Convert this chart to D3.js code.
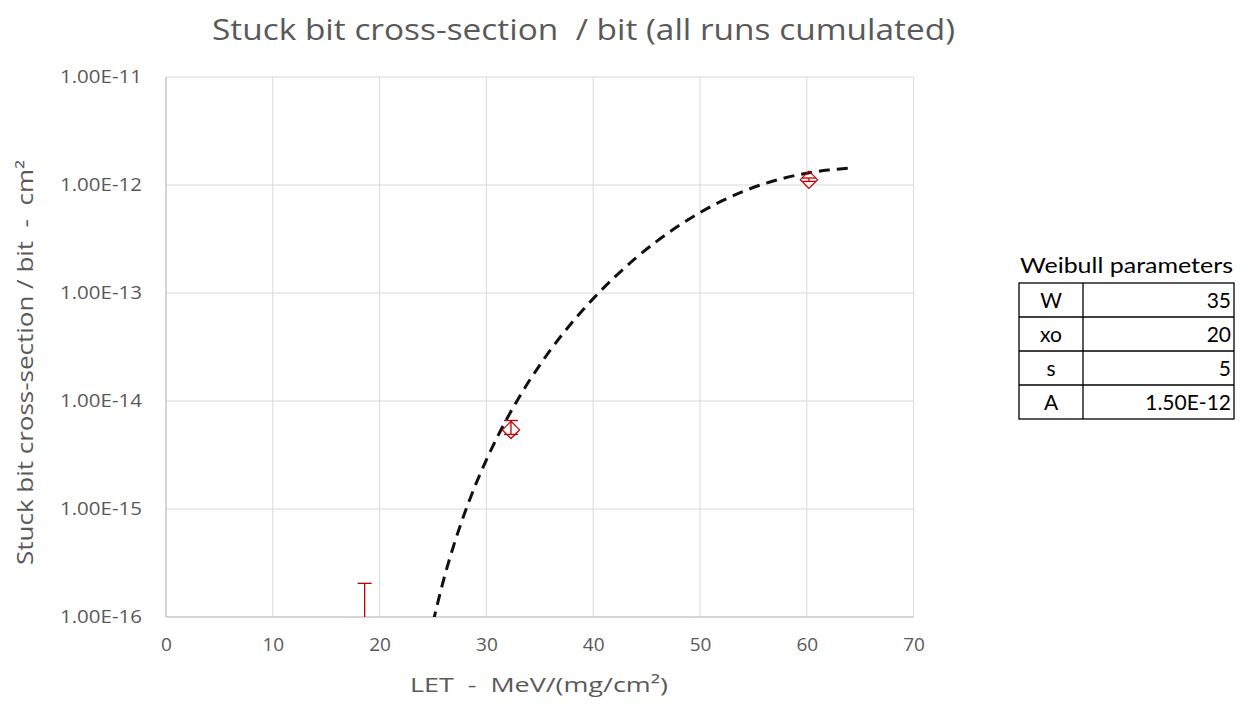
<!DOCTYPE html>
<html>
<head>
<meta charset="utf-8">
<script src="https://cdn.jsdelivr.net/npm/d3@7"></script>
<style>
  body { margin: 0; background: #fff; }
</style>
</head>
<body>
<svg id="chart" width="1248" height="704"></svg>
<script>
// ---- data ----
const xTicks = [0, 10, 20, 30, 40, 50, 60, 70];
const yTicks = [1e-16, 1e-15, 1e-14, 1e-13, 1e-12, 1e-11];
const yTickLabels = ["1.00E-16", "1.00E-15", "1.00E-14", "1.00E-13", "1.00E-12", "1.00E-11"];

// measured points (diamonds) with error bars
const pointLET = [32.3, 60.2];
const pointSigma = [5.4e-15, 1.12e-12];
const pointErrLow = [4.9e-15, 1.08e-12];
const pointErrHigh = [6.6e-15, 1.16e-12];

// upper limit only (no event seen)
const limitLET = [18.6];
const limitUpper = [2.05e-16];

// weibull fit curve
const fitLET = [25, 26, 27, 28, 29, 30, 31, 32, 33, 34, 35, 36, 38, 40, 42, 44, 46, 48, 50, 52, 54, 56, 58, 60, 62, 64];
const fitSigma = [8.9e-17, 2.22e-16, 4.8e-16, 9.36e-16, 1.69e-15, 2.85e-15, 4.6e-15, 7.09e-15, 1.057e-14, 1.53e-14,
  2.15e-14, 2.97e-14, 5.3e-14, 8.87e-14, 1.40e-13, 2.11e-13, 3.04e-13, 4.19e-13, 5.56e-13, 7.08e-13,
  8.69e-13, 1.026e-12, 1.168e-12, 1.287e-12, 1.375e-12, 1.435e-12];

const paramNames = ["W", "xo", "s", "A"];
const paramValues = ["35", "20", "5", "1.50E-12"];

// ---- layout ----
const svg = d3.select("#chart");
const plot = { left: 166, right: 913.6, top: 77, bottom: 617 };
const grey = "#595959";
const gridColor = "#d9d9d9";
const red = "#c00000";
const font = "Open Sans, sans-serif";

const x = d3.scaleLinear().domain([0, 70]).range([plot.left, plot.right]);
const y = d3.scaleLog().domain([1e-16, 1e-11]).range([plot.bottom, plot.top]);

// title
svg.append("text")
  .attr("x", 583.5).attr("y", 40)
  .attr("text-anchor", "middle")
  .attr("font-family", font)
  .attr("font-size", 30)
  .attr("fill", grey)
  .attr("textLength", 743)
  .attr("lengthAdjust", "spacingAndGlyphs")
  .attr("xml:space", "preserve")
  .text("Stuck bit cross-section  / bit (all runs cumulated)");

// grid
const grid = svg.append("g");
grid.selectAll("line.v").data(xTicks).enter().append("line")
  .attr("class", "v")
  .attr("x1", d => x(d)).attr("x2", d => x(d))
  .attr("y1", plot.top).attr("y2", plot.bottom)
  .attr("stroke", gridColor).attr("stroke-width", 1);
grid.selectAll("line.h").data(yTicks).enter().append("line")
  .attr("class", "h")
  .attr("x1", plot.left).attr("x2", plot.right)
  .attr("y1", d => y(d)).attr("y2", d => y(d))
  .attr("stroke", gridColor).attr("stroke-width", 1);

// axis lines a bit darker
svg.append("line")
  .attr("x1", plot.left).attr("x2", plot.left)
  .attr("y1", plot.top).attr("y2", plot.bottom)
  .attr("stroke", "#bfbfbf");
svg.append("line")
  .attr("x1", plot.left).attr("x2", plot.right)
  .attr("y1", plot.bottom).attr("y2", plot.bottom)
  .attr("stroke", "#bfbfbf");

// x axis labels
const xAxis = d3.axisBottom(x).tickValues(xTicks).tickSize(0).tickPadding(21);
svg.append("g")
  .attr("transform", `translate(0,${plot.bottom})`)
  .call(xAxis)
  .call(g => g.select(".domain").remove())
  .selectAll("text")
  .attr("font-family", font)
  .attr("font-size", 19)
  .attr("fill", grey);

// y axis labels
const yAxis = d3.axisLeft(y).tickValues(yTicks).tickSize(0).tickPadding(24)
  .tickFormat((d, i) => yTickLabels[i]);
svg.append("g")
  .attr("transform", `translate(${plot.left},0)`)
  .call(yAxis)
  .call(g => g.select(".domain").remove())
  .selectAll("text")
  .attr("font-family", font)
  .attr("font-size", 18)
  .attr("fill", grey)
  .attr("textLength", 82)
  .attr("lengthAdjust", "spacingAndGlyphs");

// axis titles
svg.append("text")
  .attr("x", 539).attr("y", 692)
  .attr("text-anchor", "middle")
  .attr("font-family", font)
  .attr("font-size", 20)
  .attr("fill", grey)
  .attr("textLength", 258)
  .attr("lengthAdjust", "spacingAndGlyphs")
  .attr("xml:space", "preserve")
  .text("LET  -  MeV/(mg/cm²)");

svg.append("text")
  .attr("transform", "translate(33,362.5) rotate(-90)")
  .attr("text-anchor", "middle")
  .attr("font-family", font)
  .attr("font-size", 21)
  .attr("fill", grey)
  .attr("textLength", 405)
  .attr("lengthAdjust", "spacingAndGlyphs")
  .attr("xml:space", "preserve")
  .text("Stuck bit cross-section / bit  -  cm²");

// clip for the curve
svg.append("clipPath").attr("id", "clip")
  .append("rect")
  .attr("x", plot.left).attr("y", plot.top)
  .attr("width", plot.right - plot.left).attr("height", plot.bottom - plot.top);

const fitData = fitLET.map((d, i) => ({ x: d, y: fitSigma[i] }));
const line = d3.line()
  .x(d => x(d.x))
  .y(d => y(d.y))
  .curve(d3.curveMonotoneX);

svg.append("path")
  .datum(fitData)
  .attr("clip-path", "url(#clip)")
  .attr("d", line)
  .attr("fill", "none")
  .attr("stroke", "#111")
  .attr("stroke-width", 3)
  .attr("stroke-dasharray", "11,7");

// upper-limit bar
const capW = 7;
limitLET.forEach((d, i) => {
  svg.append("line")
    .attr("x1", x(d)).attr("x2", x(d))
    .attr("y1", y(limitUpper[i])).attr("y2", plot.bottom)
    .attr("stroke", red).attr("stroke-width", 1.3);
  svg.append("line")
    .attr("x1", x(d) - capW).attr("x2", x(d) + capW)
    .attr("y1", y(limitUpper[i])).attr("y2", y(limitUpper[i]))
    .attr("stroke", red).attr("stroke-width", 1.3);
});

// error bars and diamonds
const pts = pointLET.map((d, i) => ({ x: d, y: pointSigma[i], lo: pointErrLow[i], hi: pointErrHigh[i] }));
const pg = svg.selectAll("g.pt").data(pts).enter().append("g").attr("class", "pt");
pg.append("line")
  .attr("x1", d => x(d.x)).attr("x2", d => x(d.x))
  .attr("y1", d => y(d.hi)).attr("y2", d => y(d.lo))
  .attr("stroke", red).attr("stroke-width", 1.3);
pg.append("line")
  .attr("x1", d => x(d.x) - capW).attr("x2", d => x(d.x) + capW)
  .attr("y1", d => y(d.hi)).attr("y2", d => y(d.hi))
  .attr("stroke", red).attr("stroke-width", 1.3);
pg.append("line")
  .attr("x1", d => x(d.x) - capW).attr("x2", d => x(d.x) + capW)
  .attr("y1", d => y(d.lo)).attr("y2", d => y(d.lo))
  .attr("stroke", red).attr("stroke-width", 1.3);
pg.append("path")
  .attr("d", d3.symbol().type(d3.symbolDiamond2).size(190))
  .attr("transform", d => `translate(${x(d.x)},${y(d.y)})`)
  .attr("fill", "none")
  .attr("stroke", red)
  .attr("stroke-width", 1.2);

// weibull parameter table
const tbl = { left: 1019, mid: 1083, right: 1234, top: 283, rowH: 34 };
const tfont = "Lato, sans-serif";
svg.append("text")
  .attr("x", 1020).attr("y", 273)
  .attr("font-family", tfont)
  .attr("font-size", 21)
  .attr("fill", "#000")
  .attr("textLength", 213)
  .attr("lengthAdjust", "spacingAndGlyphs")
  .text("Weibull parameters");

const tg = svg.append("g");
tg.append("rect")
  .attr("x", tbl.left).attr("y", tbl.top)
  .attr("width", tbl.right - tbl.left).attr("height", tbl.rowH * paramNames.length)
  .attr("fill", "none").attr("stroke", "#000").attr("stroke-width", 1.3);
tg.append("line")
  .attr("x1", tbl.mid).attr("x2", tbl.mid)
  .attr("y1", tbl.top).attr("y2", tbl.top + tbl.rowH * paramNames.length)
  .attr("stroke", "#000").attr("stroke-width", 1.3);
paramNames.forEach((p, i) => {
  if (i > 0) {
    tg.append("line")
      .attr("x1", tbl.left).attr("x2", tbl.right)
      .attr("y1", tbl.top + i * tbl.rowH).attr("y2", tbl.top + i * tbl.rowH)
      .attr("stroke", "#000").attr("stroke-width", 1.3);
  }
  tg.append("text")
    .attr("x", (tbl.left + tbl.mid) / 2)
    .attr("y", tbl.top + i * tbl.rowH + 25)
    .attr("text-anchor", "middle")
    .attr("font-family", tfont)
    .attr("font-size", 21)
    .text(p);
  tg.append("text")
    .attr("x", tbl.right - 3)
    .attr("y", tbl.top + i * tbl.rowH + 25)
    .attr("text-anchor", "end")
    .attr("font-family", tfont)
    .attr("font-size", 21)
    .text(paramValues[i]);
});
</script>
</body>
</html>
